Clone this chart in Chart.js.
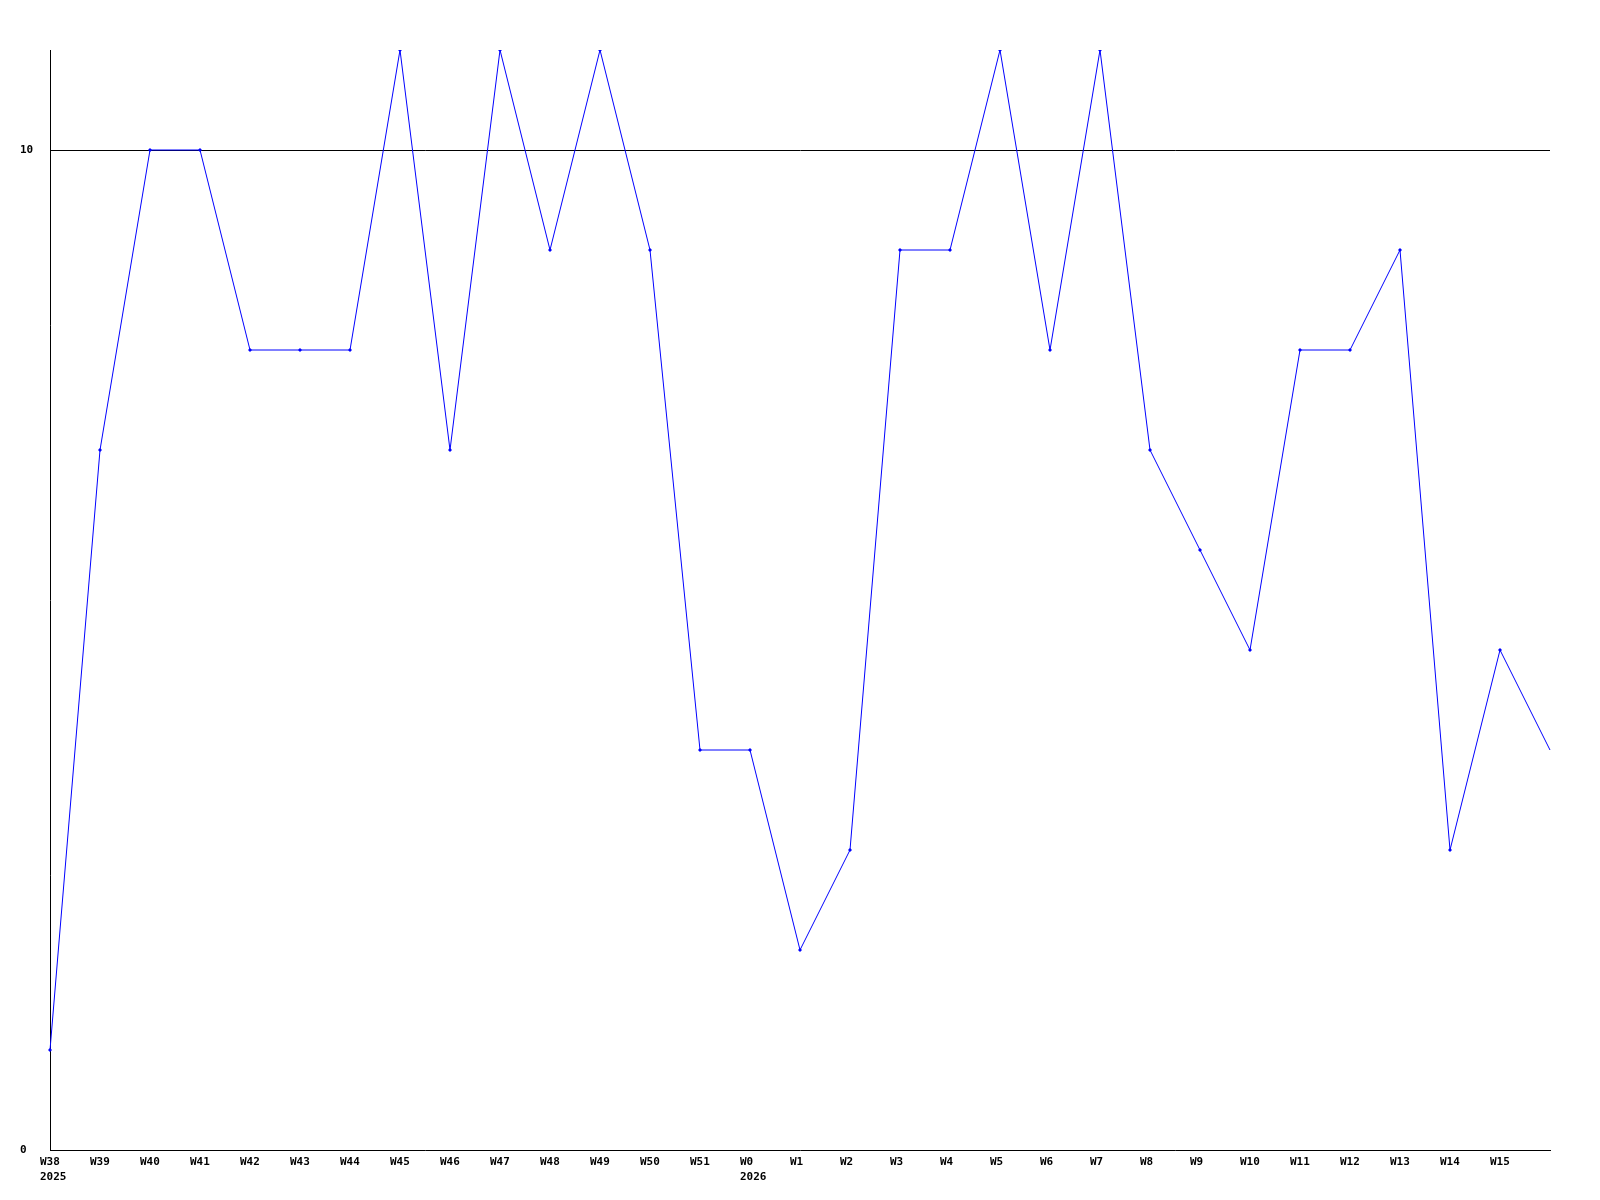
<!DOCTYPE html>
<html>
<head>
<meta charset="utf-8">
<title>Weekly count</title>
<script src="https://cdn.jsdelivr.net/npm/chart.js@4/dist/chart.umd.min.js"></script>
<style>
	html, body { margin: 0; padding: 0; background: #fff; }
	canvas { display: block; }
</style>
</head>
<body>
<canvas id="myChart" width="1600" height="1200"></canvas>
<script>
// week labels (year shown under first week of each year)
const weeks = [
	["W38", "2025"], "W39", "W40", "W41", "W42", "W43", "W44", "W45", "W46", "W47",
	"W48", "W49", "W50", "W51", ["W0", "2026"], "W1", "W2", "W3", "W4", "W5",
	"W6", "W7", "W8", "W9", "W10", "W11", "W12", "W13", "W14", "W15", ""
];
const counts = [
	1, 7, 10, 10, 8, 8, 8, 11, 7, 11,
	9, 11, 9, 4, 4, 2, 3, 9, 9, 11,
	8, 11, 7, 6, 5, 8, 8, 9, 3, 5, 4
];
const yTicks = [0, 10];
const yMax = 11;

const tickFont = { family: "'DejaVu Sans Mono', monospace", size: 11, weight: "bold", lineHeight: "15px" };

// week labels start a bit left of their tick, left aligned
const shiftLabels = {
	id: "shiftLabels",
	afterUpdate(chart) {
		const items = chart.scales.x.getLabelItems();
		items.forEach((item) => {
			item.options.translation[0] -= 10;
		});
	},
};

const ctx = document.getElementById("myChart").getContext("2d");
const myChart = new Chart(ctx, {
	type: "line",
	data: {
		labels: weeks,
		datasets: [
			{
				data: counts,
				borderColor: "#0000ff",
				backgroundColor: "#0000ff",
				borderWidth: 1,
				pointStyle: "rectRot",
				// last point (current week) has no marker
				pointRadius: (c) => (c.dataIndex === counts.length - 1 ? 0 : 2),
				pointBorderWidth: 0,
				tension: 0,
				fill: false,
			},
		],
	},
	plugins: [shiftLabels],
	options: {
		responsive: false,
		animation: false,
		events: [],
		layout: { padding: { left: 20, top: 50, right: 50, bottom: 0 } },
		plugins: { legend: { display: false }, tooltip: { enabled: false } },
		scales: {
			x: {
				type: "category",
				offset: false,
				grid: { display: false, drawTicks: false },
				border: { display: true, color: "#000", width: 1 },
				ticks: {
					autoSkip: false,
					maxRotation: 0,
					minRotation: 0,
					align: "start",
					color: "#000",
					font: tickFont,
					padding: 5,
				},
				afterFit: (scale) => { scale.height = 50; },
			},
			y: {
				min: 0,
				max: yMax,
				afterBuildTicks: (scale) => {
					scale.ticks = yTicks.map((v) => ({ value: v }));
				},
				grid: {
					drawTicks: false,
					color: (c) => (c.tick && c.tick.value === 10 ? "#000" : "rgba(0,0,0,0)"),
					lineWidth: 1,
				},
				border: { display: true, color: "#000", width: 1 },
				ticks: {
					color: "#000",
					font: tickFont,
					crossAlign: "far",
					padding: 0,
				},
				afterFit: (scale) => { scale.width = 30; },
			},
		},
	},
});
</script>
</body>
</html>
